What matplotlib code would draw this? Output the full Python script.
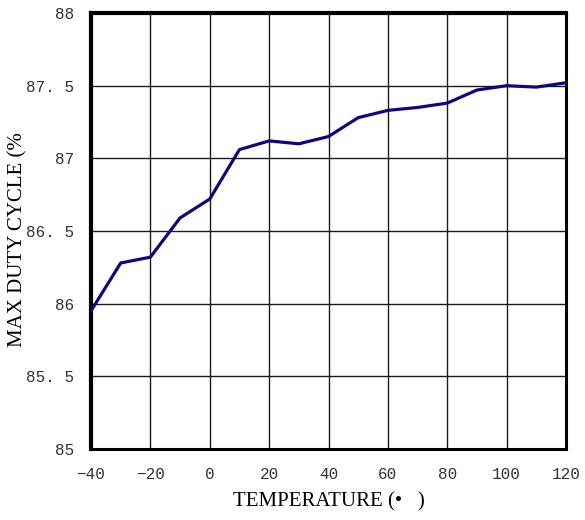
import matplotlib
matplotlib.use("Agg")
import matplotlib.pyplot as plt

temperature = [-40, -30, -20, -10, 0, 10, 20, 30, 40, 50, 60, 70, 80, 90, 100, 110, 120]
duty_cycle = [85.95, 86.28, 86.32, 86.59, 86.72, 87.06, 87.12, 87.10, 87.15, 87.28,
              87.33, 87.35, 87.38, 87.47, 87.50, 87.49, 87.52]
x_ticks = [-40, -20, 0, 20, 40, 60, 80, 100, 120]
y_ticks = [85, 85.5, 86, 86.5, 87, 87.5, 88]
y_tick_labels = ["85", "85. 5", "86", "86. 5", "87", "87. 5", "88"]

fig = plt.figure(figsize=(5.85, 5.2), dpi=100)
ax = fig.add_axes([91 / 585, 1 - 449 / 520, (566 - 91) / 585, (449 - 13) / 520])
ax.plot(temperature, duty_cycle, color="#0a0a80", linewidth=2.3, zorder=3)
ax.set_xlim(-40, 120)
ax.set_ylim(85, 88)
ax.set_xticks(x_ticks)
ax.set_yticks(y_ticks)
ax.set_xticklabels(["\u2212" + str(-t) if t < 0 else str(t) for t in x_ticks],
                   family="Liberation Mono", fontsize=11.5, color="#333333")
ax.set_yticklabels(y_tick_labels, family="Liberation Mono", fontsize=11.5, color="#333333")
ax.tick_params(axis="x", length=0, pad=13)
ax.tick_params(axis="y", length=0, pad=12)
ax.grid(True, color="#1a1a1a", linewidth=1.0)
for name, s in ax.spines.items():
    s.set_color("black")
    s.set_linewidth(3.0 if name in ("left", "top") else 2.2)
ax.set_xlabel("TEMPERATURE (\u2022   )", family="Liberation Serif", fontsize=15, labelpad=7)
fig.text(18 / 585, 1 - 240 / 520, "MAX DUTY CYCLE (%", family="Liberation Serif",
         fontsize=15, rotation=90, ha="center", va="center")
fig.savefig("out.png", dpi=100)
